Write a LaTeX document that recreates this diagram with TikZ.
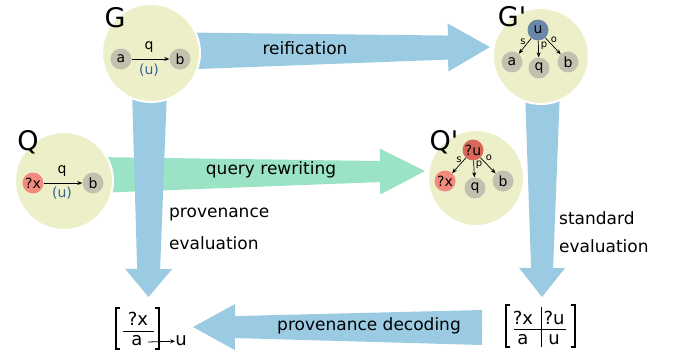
\documentclass[tikz,border=0pt]{standalone}
\usepackage{fontspec}
\setmainfont{DejaVu Sans}
\usetikzlibrary{calc,arrows.meta}
\definecolor{circfill}{HTML}{ECEFC8}
\definecolor{graynode}{HTML}{C2C1B0}
\definecolor{ublue}{HTML}{6B87A8}
\definecolor{qred}{HTML}{D9685B}
\definecolor{xsalmon}{HTML}{F28B7E}
\definecolor{arrowblue}{HTML}{9BCBE3}
\definecolor{arrowgreen}{HTML}{9AE3C5}
\definecolor{labelblue}{HTML}{3B619B}
\newcommand\fatarrow[8]{%
  \coordinate (#1-b) at ($(#4)!#8!(#3)$);
  \fill[#2] ($(#3)!#5!90:(#4)$) -- ($(#1-b)!#6!90:(#4)$) -- ($(#1-b)!#7!90:(#4)$) -- (#4)
    -- ($(#1-b)!#7!-90:(#4)$) -- ($(#1-b)!#6!-90:(#4)$) -- ($(#3)!#5!-90:(#4)$) -- cycle;
}
\tikzset{
  bigcirc/.style={circle, fill=circfill, draw=white, line width=2pt, minimum size=98pt, inner sep=0pt},
  vnode/.style={circle, fill=graynode, minimum size=21pt, inner sep=0pt, font=\fontsize{14}{16}\selectfont},
  title/.style={font=\fontsize{27}{30}\selectfont, inner sep=0pt},
  biglbl/.style={font=\fontsize{17}{20}\selectfont, inner sep=0pt},
  elbl/.style={font=\fontsize{14}{16}\selectfont, inner sep=0pt},
  slbl/.style={font=\fontsize{10}{12}\selectfont, inner sep=0pt},
  medge/.style={-{Stealth[length=5pt,width=4pt]}, line width=0.7pt},
  mtxt/.style={font=\fontsize{18}{21}\selectfont, inner sep=0pt},
  brk/.style={line width=2pt},
}
\begin{document}
\begin{tikzpicture}[x=1pt,y=-1pt]
\useasboundingbox (0,0) rectangle (681,356);
% big arrows
\coordinate (r-t) at (185,51);  \coordinate (r-h) at (490,47);
\coordinate (w-t) at (95,175);  \coordinate (w-h) at (425,171);
\coordinate (pe-t) at (149.5,90); \coordinate (pe-h) at (148.5,297);
\coordinate (se-t) at (542.5,90); \coordinate (se-h) at (542,297);
\coordinate (pd-t) at (482,327.5); \coordinate (pd-h) at (193,327);
\fatarrow{w}{arrowgreen}{w-t}{w-h}{18pt}{10.5pt}{23pt}{45pt}
\fatarrow{r}{arrowblue}{r-t}{r-h}{18.5pt}{12pt}{24pt}{42pt}
\fatarrow{pe}{arrowblue}{pe-t}{pe-h}{17.5pt}{11.5pt}{23.5pt}{28pt}
\fatarrow{se}{arrowblue}{se-t}{se-h}{17.5pt}{11pt}{23pt}{29pt}
\fatarrow{pd}{arrowblue}{pd-t}{pd-h}{17.5pt}{11pt}{23pt}{42pt}
% arrow labels
\node[biglbl] (lr) at (305,48) {reification};
\node[biglbl] (lw) at (271,170) {query rewriting};
\node[biglbl, anchor=west] (lpe1) at (169,215) {provenance};
\node[biglbl, anchor=west] (lpe2) at (169,243) {evaluation};
\node[biglbl, anchor=west] (lse1) at (559,218) {standard};
\node[biglbl, anchor=west] (lse2) at (559,246) {evaluation};
\node[biglbl] (lpd) at (369,326) {provenance decoding};
% G
\node[bigcirc] (G) at (151,53) {};
\node[title] (Gl) at (115,18) {G};
\node[vnode] (Ga) at (121,59) {a};
\node[vnode] (Gb) at (180,59) {b};
\draw[medge] (Ga) -- (Gb);
\node[elbl] (Gq) at (149,47) {q};
\node[elbl, text=labelblue] (Gu) at (149,70) {(u)};
% G'
\node[bigcirc, minimum size=96pt] (Gp) at (541,56) {};
\node[title] (Gpl) at (512,17) {G\textquotesingle};
\node[vnode, fill=ublue] (Gpu) at (538,30) {u};
\node[vnode] (Gpa) at (512,62) {a};
\node[vnode] (Gpq) at (539,68) {q};
\node[vnode] (Gpb) at (568,62) {b};
\draw[medge] (Gpu) -- (Gpa);
\draw[medge] (Gpu) -- (Gpq);
\draw[medge] (Gpu) -- (Gpb);
\node[slbl] (Gps) at (523,42) {s};
\node[slbl] (Gpp) at (544,46) {p};
\node[slbl] (Gpo) at (554,40) {o};
% Q
\node[bigcirc] (Q) at (64,181) {};
\node[title] (Ql) at (28,142) {Q};
\node[vnode, fill=xsalmon] (Qx) at (33,183) {?x};
\node[vnode] (Qb) at (93,183) {b};
\draw[medge] (Qx) -- (Qb);
\node[elbl] (Qq) at (62,171) {q};
\node[elbl, text=labelblue] (Qu) at (62,193) {(u)};
% Q'
\node[bigcirc, minimum size=96pt] (Qp) at (476,178) {};
\node[title] (Qpl) at (444,142) {Q\textquotesingle};
\node[vnode, fill=qred] (Qpu) at (473,150) {?u};
\node[vnode, fill=xsalmon] (Qpx) at (445,181) {?x};
\node[vnode] (Qpq) at (475,188) {q};
\node[vnode] (Qpb) at (503,181) {b};
\draw[medge] (Qpu) -- (Qpx);
\draw[medge] (Qpu) -- (Qpq);
\draw[medge] (Qpu) -- (Qpb);
\node[slbl] (Qps) at (459,160) {s};
\node[slbl] (Qpp) at (479,165) {p};
\node[slbl] (Qpo) at (489,158) {o};
% left result
\node[mtxt] (Lx) at (138,319) {?x};
\node[mtxt] (La) at (137,341) {a};
\draw[line width=1pt] (123,331) -- (154,331);
\draw[brk] (120,308) -- (116,308) -- (116,349) -- (120,349);
\draw[brk] (155,308) -- (159,308) -- (159,349) -- (155,349);
\node[mtxt] (Lu) at (181,341) {u};
\coordinate (Ls) at (148,342);
\draw[-{Stealth[length=5pt,width=4pt]}, line width=0.8pt] (Ls) -- (Lu);
% right result
\node[mtxt] (Rx) at (523,318) {?x};
\node[mtxt] (Ru) at (554,318) {?u};
\node[mtxt] (Ra) at (523,340) {a};
\node[mtxt] (Ruu) at (554,340) {u};
\draw[line width=1pt] (541,307) -- (541,347);
\draw[line width=1pt] (514,329) -- (566,329);
\draw[brk] (510,305) -- (506,305) -- (506,347) -- (510,347);
\draw[brk] (571,305) -- (575,305) -- (575,347) -- (571,347);
\end{tikzpicture}
\end{document}
